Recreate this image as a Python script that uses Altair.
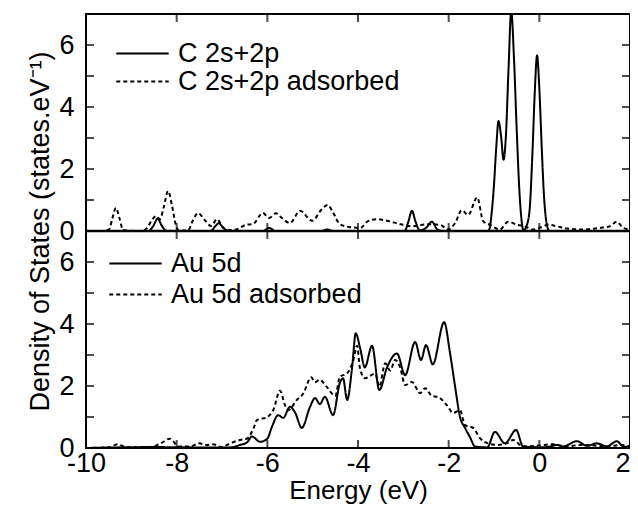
import altair as alt
import pandas as pd

# ---- data ----
c_E = [-10, -8.62, -8.52, -8.42, -8.32, -8.22, -7.25, -7.15, -7.07, -6.97, -6.85,
       -6.1, -5.96, -5.82, -4.8, -4.68, -4.56, -2.97, -2.89, -2.81, -2.73, -2.64,
       -2.5, -2.37, -2.25, -2.12, -1.12, -1.05, -1.0, -0.95, -0.9, -0.84, -0.79,
       -0.74, -0.68, -0.62, -0.56, -0.5, -0.44, -0.38, -0.35, -0.3, -0.22, -0.15,
       -0.1, -0.05, 0.0, 0.05, 0.1, 0.15, 0.22, 2.0]
c_v = [0, 0, 0.15, 0.4, 0.15, 0, 0, 0.15, 0.25, 0.1, 0,
       0, 0.1, 0, 0, 0.05, 0, 0, 0.3, 0.65, 0.3, 0.02,
       0.1, 0.3, 0.05, 0, 0, 0.6, 1.5, 2.7, 3.55, 3.0, 2.3,
       3.0, 5.2, 7.1, 5.6, 3.3, 1.3, 0.2, 0, 0.1, 0.6, 2.6,
       4.5, 5.66, 4.6, 2.8, 1.2, 0.35, 0, 0]

cads_E = [-10, -9.6, -9.49, -9.42, -9.34, -9.26, -9.18, -8.8, -8.65, -8.57, -8.45,
          -8.37, -8.28, -8.19, -8.1, -8.02, -7.95, -7.75, -7.64, -7.53, -7.38,
          -7.24, -7.11, -6.98, -6.88, -6.69, -6.47, -6.32, -6.1, -5.96, -5.81,
          -5.68, -5.5, -5.28, -5.01, -4.8, -4.67, -4.55, -4.4, -4.15, -3.95,
          -3.78, -3.58, -3.36, -3.14, -3.0, -2.79, -2.48, -2.19, -2.01, -1.86,
          -1.71, -1.57, -1.37, -1.24, -1.09, -0.87, -0.69, -0.49, -0.32, -0.14,
          0.0, 0.2, 0.39, 0.61, 0.96, 1.34, 1.55, 1.71, 1.85, 2.0]
cads_v = [0, 0, 0.05, 0.4, 0.75, 0.4, 0.03, 0, 0.1, 0.3, 0.48,
          0.38, 0.8, 1.29, 0.8, 0.2, 0.02, 0.02, 0.35, 0.58, 0.35,
          0.16, 0.38, 0.12, 0.03, 0.05, 0.2, 0.22, 0.58, 0.42, 0.57,
          0.42, 0.26, 0.65, 0.33, 0.7, 0.84, 0.6, 0.22, 0.12, 0.1,
          0.32, 0.38, 0.33, 0.25, 0.2, 0.15, 0.22, 0.2, 0.05, 0.25,
          0.67, 0.52, 1.08, 0.32, 0.2, 0.05, 0.3, 0.2, 0.15, 0.05,
          0.1, 0.2, 0.15, 0.08, 0.05, 0.1, 0.15, 0.3, 0.1, 0.05]

au_E = [-10, -9.3, -8.5, -7.6, -7.0, -6.82, -6.6, -6.45, -6.34, -6.16, -6.0,
        -5.9, -5.76, -5.65, -5.5, -5.39, -5.24, -5.06, -4.95, -4.84, -4.73,
        -4.55, -4.4, -4.33, -4.24, -4.13, -4.05, -3.95, -3.85, -3.69, -3.53,
        -3.36, -3.14, -2.96, -2.74, -2.61, -2.5, -2.35, -2.1, -1.97, -1.86,
        -1.75, -1.64, -1.53, -1.42, -1.15, -0.98, -0.76, -0.51, -0.36, 0.0,
        0.24, 0.39, 0.52, 0.83, 1.05, 1.27, 1.49, 1.71, 1.85, 2.0]
au_v = [0, 0.02, 0.03, 0.02, 0.02, 0.02, 0.1, 0.18, 0.37, 0.2, 0.3,
        0.68, 1.06, 0.97, 1.33, 1.15, 0.65, 1.32, 1.61, 1.42, 1.65,
        1.06, 2.1, 2.25, 1.55, 2.6, 3.7, 3.2, 2.6, 3.3, 1.87,
        2.6, 3.05, 2.35, 3.42, 2.84, 3.32, 2.7, 4.06, 3.06, 2.0,
        1.0, 0.65, 0.35, 0.05, 0.02, 0.52, 0.15, 0.58, 0.05, 0.02,
        0.05, 0.1, 0.05, 0.22, 0.07, 0.15, 0.05, 0.22, 0.05, 0.03]

auads_E = [-10, -9.5, -9.3, -9.1, -8.6, -8.35, -8.15, -7.95, -7.7, -7.5, -7.35,
           -7.2, -7.0, -6.82, -6.6, -6.45, -6.3, -6.23, -6.0, -5.87, -5.72,
           -5.61, -5.54, -5.35, -5.21, -5.03, -4.95, -4.84, -4.69, -4.5, -4.4,
           -4.25, -4.11, -4.02, -3.96, -3.85, -3.62, -3.53, -3.4, -3.29, -3.18,
           -3.07, -2.96, -2.81, -2.63, -2.52, -2.37, -2.24, -2.04, -1.9, -1.75,
           -1.64, -1.46, -1.31, -1.13, -0.94, -0.72, -0.58, -0.36, 0.0, 0.3,
           0.6, 0.9, 1.2, 1.5, 1.8, 2.0]
auads_v = [0, 0.02, 0.12, 0.02, 0.03, 0.15, 0.3, 0.05, 0.05, 0.15, 0.1,
           0.12, 0.03, 0.15, 0.26, 0.3, 0.65, 0.9, 1.0, 1.22, 1.85,
           1.38, 1.22, 1.55, 1.75, 2.28, 2.12, 2.2, 1.97, 1.68, 2.3,
           2.4, 2.8, 3.3, 2.6, 2.25, 2.4, 1.98, 2.73, 2.5, 2.84,
           2.6, 2.03, 2.13, 1.77, 1.93, 1.68, 1.65, 1.38, 1.13, 1.22,
           0.74, 0.65, 0.32, 0.15, 0.1, 0.15, 0.26, 0.05, 0.08, 0.12,
           0.05, 0.1, 0.08, 0.05, 0.1, 0.05]

series_names = ["C 2s+2p", "C 2s+2p adsorbed", "Au 5d", "Au 5d adsorbed"]
panel_max = 7  # each panel spans 0..7
x_ticks = [-10, -8, -6, -4, -2, 0, 2]
x_minor = [-8, -6, -4, -2, 0]
y_label_vals = [0, 2, 4, 6, 7, 9, 11, 13]

FONT = "Liberation Sans"
FS = 27

xscale = alt.Scale(domain=[-10, 2], nice=False, zero=False)
yscale = alt.Scale(domain=[0, 2 * panel_max], nice=False, zero=False)
xaxis = alt.Axis(title="Energy (eV)", values=x_ticks, labelExpr="'' + datum.value",
                 ticks=False, domain=False, grid=False, labelPadding=2, titlePadding=1,
                 labelFontSize=FS, titleFontSize=26, labelFont=FONT, titleFont=FONT,
                 titleFontWeight="normal", labelColor="black", titleColor="black",
                 labelFlush=False, labelOverlap=False,
                 labelAlign={"condition": {"test": "datum.value >= 2", "value": "right"},
                             "value": "center"})
yaxis = alt.Axis(title="Density of States (states.eV\u207b\u00b9)", values=y_label_vals,
                 labelExpr="'' + (datum.value >= 7 ? datum.value - 7 : datum.value)",
                 ticks=False, domain=False, grid=False, labelPadding=12,
                 titlePadding=4, labelFontSize=FS, titleFontSize=FS,
                 labelFont=FONT, titleFont=FONT, titleFontWeight="normal",
                 labelColor="black", titleColor="black", labelOverlap=False,
                 labelFlush=False)

SOLID = [1, 0]
DASH = [4, 3]


def legend(x, y):
    return alt.Legend(title=None, orient="none", legendX=x, legendY=y,
                      symbolType="stroke", symbolSize=2750, symbolStrokeWidth=2,
                      symbolStrokeColor="black", labelFontSize=FS, labelFont=FONT,
                      labelColor="black", labelOffset=8, padding=0, labelLimit=0)


def series_layer(E, v, name, dash, shift, lx, ly):
    df = pd.DataFrame({"E": E, "v": v, "series": name})
    return alt.Chart(df).transform_calculate(
        y=f"datum.v + {shift}"
    ).mark_line(color="black", strokeWidth=2, clip=True, interpolate="monotone").encode(
        x=alt.X("E:Q", scale=xscale, axis=xaxis),
        y=alt.Y("y:Q", scale=yscale, axis=yaxis),
        strokeDash=alt.StrokeDash("series:N",
                                  scale=alt.Scale(domain=[name], range=[dash]),
                                  legend=legend(lx, ly)),
    )


l1 = series_layer(c_E, c_v, series_names[0], SOLID, panel_max, 29, 12)
l2 = series_layer(cads_E, cads_v, series_names[1], DASH, panel_max, 29, 40)
l3 = series_layer(au_E, au_v, series_names[2], SOLID, 0, 22, 222)
l4 = series_layer(auads_E, auads_v, series_names[3], DASH, 0, 22, 253)

ytick_df = pd.DataFrame([{"x": xe, "y": yv} for xe in [-10, 2] for yv in range(0, 2 * panel_max + 1)])
xtick_df = pd.DataFrame([{"x": xv, "y": ye} for xv in x_minor for ye in [0, panel_max, 2 * panel_max]])

yticks = alt.Chart(ytick_df).mark_tick(orient="horizontal", size=16, thickness=2,
                                       color="black", clip=True).encode(
    x=alt.X("x:Q", scale=xscale, axis=xaxis),
    y=alt.Y("y:Q", scale=yscale, axis=yaxis),
)
xticks = alt.Chart(xtick_df).mark_tick(orient="vertical", size=16, thickness=2,
                                       color="black", clip=True).encode(
    x=alt.X("x:Q", scale=xscale, axis=xaxis),
    y=alt.Y("y:Q", scale=yscale, axis=yaxis),
)
divider = alt.Chart(pd.DataFrame({"y": [panel_max]})).mark_rule(
    color="black", strokeWidth=2.5).encode(
    y=alt.Y("y:Q", scale=yscale, axis=yaxis),
)

chart = alt.layer(l1, l2, l3, l4, yticks, xticks, divider).resolve_scale(
    strokeDash="independent"
).resolve_legend(strokeDash="independent").properties(
    width=544, height=434,
    autosize=alt.AutoSizeParams(type="none"),
    padding={"left": 78, "top": 6, "right": 0, "bottom": 58},
).configure_view(stroke="black", strokeWidth=2)

chart.save("out.html", embed_options={"renderer": "svg", "actions": False})
